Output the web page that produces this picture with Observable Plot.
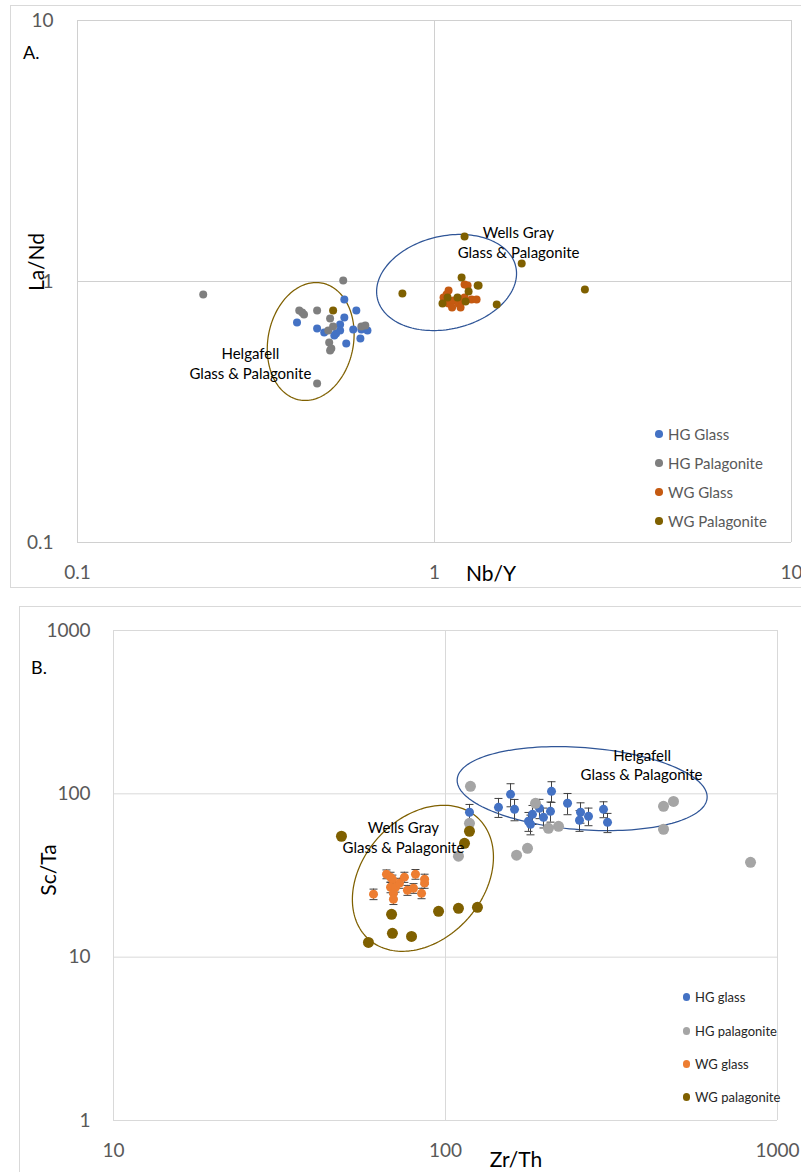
<!DOCTYPE html>
<html>
<head>
<meta charset="utf-8">
<script src="https://cdn.jsdelivr.net/npm/d3@7"></script>
<script src="https://cdn.jsdelivr.net/npm/@observablehq/plot@0.6"></script>
<style>
  body { margin: 0; background: #fff; }
  #wrap { position: relative; width: 801px; height: 1172px; overflow: hidden; background: #fff;
          font-family: Lato, "Open Sans", sans-serif; }
  .abs { position: absolute; white-space: nowrap; line-height: 1; }
  .box { position: absolute; border: 1px solid #d9d9d9; box-sizing: border-box; }
  .svgpos { position: absolute; left: 0; }
  .leg { position: absolute; white-space: nowrap; line-height: 1; transform: translateY(-50%); }
  .legdot { position: absolute; border-radius: 50%; }
</style>
</head>
<body>
<div id="wrap">
  <div class="box" style="left:10px;top:5px;width:820px;height:583px;"></div>
  <div class="box" style="left:19px;top:606px;width:820px;height:600px;"></div>
</div>
<script>
// ---------------- Panel A data: La/Nd vs Nb/Y ----------------
const hgGlassA_NbY  = [0.412,0.469,0.491,0.524,0.530,0.544,0.544,0.559,0.559,0.566,0.592,0.604,0.620,0.624,0.649];
const hgGlassA_LaNd = [0.696,0.661,0.638,0.621,0.632,0.684,0.649,0.728,0.853,0.579,0.655,0.774,0.605,0.655,0.649];

const hgPalA_NbY  = [0.225,0.555,0.418,0.431,0.426,0.469,0.510,0.504,0.520,0.507,0.514,0.510,0.624,0.640,0.469];
const hgPalA_LaNd = [0.892,1.009,0.774,0.747,0.761,0.774,0.721,0.649,0.673,0.584,0.554,0.544,0.673,0.678,0.407];

const wgGlassA_NbY  = [1.214,1.095,1.081,1.060,1.095,1.131,1.168,1.191,1.214,1.270,1.312,1.183,1.238,1.120];
const wgGlassA_LaNd = [0.974,0.924,0.892,0.868,0.823,0.846,0.823,0.846,0.868,0.853,0.853,0.795,0.965,0.795];

const wgPalA_NbY  = [0.520,0.813,1.214,1.755,2.638,1.191,1.321,1.329,1.246,1.088,1.053,1.160,1.222,1.494];
const wgPalA_LaNd = [0.774,0.900,1.487,1.172,0.932,1.036,0.965,0.965,0.916,0.868,0.823,0.868,0.838,0.816];

const xTicksA = [0.1, 1, 10];
const yTicksA = [0.1, 1, 10];
const legendA = ["HG Glass", "HG Palagonite", "WG Glass", "WG Palagonite"];
const colorsA = ["#4472c4", "#7f7f7f", "#c55a11", "#7f6000"];

const annA_text = ["Wells Gray", "Glass & Palagonite", "Helgafell", "Glass & Palagonite"];
const annA_x = [1.717, 1.720, 0.305, 0.305];
const annA_y = [1.531, 1.288, 0.525, 0.440];

// ---------------- Panel B data: Sc/Ta vs Zr/Th ----------------
const hgGlassB_ZrTh = [118.1,144.4,157.0,161.4,177.8,180.3,182.8,191.9,197.3,207.1,208.6,233.1,255.1,253.3,269.6,299.2,307.6];
const hgGlassB_ScTa = [77.1,82.7,99.3,80.4,67.9,65.1,74.9,81.5,71.8,78.1,103.6,87.5,77.1,68.9,72.8,80.4,66.9];
const hgGlassB_err  = [9,11,16,12,9,9,10,11,10,11,15,13,11,10,9,9,9];

const hgPalB_ZrTh = [118.9,118.1,109.4,163.7,176.6,186.7,204.2,219.0,453.6,486.1,453.6,829.4];
const hgPalB_ScTa = [111.1,66.0,41.5,42.1,46.4,87.5,61.5,63.3,83.8,89.9,60.7,38.1];

const wgGlassB_ZrTh = [60.7,66.4,68.3,69.2,68.3,70.7,69.7,69.7,72.7,75.2,76.8,80.1,81.2,84.7,86.5,86.5];
const wgGlassB_ScTa = [24.3,32.2,30.9,30.0,26.8,26.8,24.6,22.6,28.4,30.9,25.7,26.4,32.2,24.6,30.0,28.4];
const wgGlassB_err  = [1.8,2.0,2.2,1.8,2.0,1.8,1.6,1.6,2.0,2.2,1.8,1.8,2.2,1.8,2.2,2.0];

const wgPalB_ZrTh = [48.6,118.1,114.1,68.8,69.2,79.0,58.6,95.3,109.4,124.8];
const wgPalB_ScTa = [55.0,59.0,49.8,18.3,14.0,13.4,12.3,19.1,19.9,20.2];

const xTicksB = [10, 100, 1000];
const yTicksB = [1, 10, 100, 1000];
const legendB = ["HG glass", "HG palagonite", "WG glass", "WG palagonite"];
const colorsB = ["#4472c4", "#a5a5a5", "#ed7d31", "#7f6000"];

const annB_text = ["Wells Gray", "Glass & Palagonite", "Helgafell", "Glass & Palagonite"];
const annB_x = [74.7, 74.7, 391.3, 389.4];
const annB_y = [61.3, 46.2, 169.6, 129.8];

// Ellipse outlines: centre in data units, semi-axes in px, tilt in degrees
const ellipsesA = [
  {cx: 0.450, cy: 0.589, a: 59.5, b: 42.7, angle: 79, color: "#7f6000"},
  {cx: 1.081, cy: 0.991, a: 71,   b: 46.5, angle: 13, color: "#2f5597"}
];
const ellipsesB = [
  {cx: 85.5, cy: 30.4,  a: 81.6,  b: 60.4, angle: 48.4,  color: "#7f6000"},
  {cx: 258,  cy: 107.6, a: 125.3, b: 41.1, angle: -4.26, color: "#2f5597"}
];

// ---------------- helpers ----------------
const FONT = "Lato, 'Open Sans', sans-serif";
const zip = (xs, ys, extra = {}) => xs.map((x, i) => {
  const o = {x, y: ys[i]};
  for (const k in extra) o[k] = extra[k][i];
  return o;
});

function ellipseLine(e, sx, sy) {
  const pts = [];
  const px0 = sx(e.cx), py0 = sy(e.cy), th = e.angle * Math.PI / 180;
  for (let k = 0; k <= 160; k++) {
    const t = 2 * Math.PI * k / 160;
    const dx = e.a * Math.cos(t) * Math.cos(th) - e.b * Math.sin(t) * Math.sin(th);
    const dy = e.a * Math.cos(t) * Math.sin(th) + e.b * Math.sin(t) * Math.cos(th);
    pts.push({x: sx.invert(px0 + dx), y: sy.invert(py0 - dy)});
  }
  return Plot.line(pts, {x: "x", y: "y", stroke: e.color, strokeWidth: 1.25});
}

const capSymbol = {draw(ctx) { ctx.moveTo(-4, 0); ctx.lineTo(4, 0); }};
function errorBars(rows, color) {
  const ext = rows.map(d => ({x: d.x, y1: d.y - d.err, y2: d.y + d.err}));
  return [
    Plot.ruleX(ext, {x: "x", y1: "y1", y2: "y2", stroke: color, strokeWidth: 1}),
    Plot.dot(ext, {x: "x", y: "y1", symbol: capSymbol, stroke: color, fill: "none", strokeWidth: 1}),
    Plot.dot(ext, {x: "x", y: "y2", symbol: capSymbol, stroke: color, fill: "none", strokeWidth: 1})
  ];
}

const wrap = document.getElementById("wrap");
function addHTML(html) { wrap.insertAdjacentHTML("beforeend", html); }

// ---------------- Panel A ----------------
{
  const W = 801, H = 590, mT = 20, mR = 10, mB = 48, mL = 77;
  const sx = d3.scaleLog().domain([0.1, 10]).range([mL, W - mR]);
  const sy = d3.scaleLog().domain([0.1, 10]).range([H - mB, mT]);
  const series = [
    zip(hgGlassA_NbY, hgGlassA_LaNd),
    zip(hgPalA_NbY, hgPalA_LaNd),
    zip(wgGlassA_NbY, wgGlassA_LaNd),
    zip(wgPalA_NbY, wgPalA_LaNd)
  ];
  const ann = annA_text.map((t, i) => ({text: t, x: annA_x[i], y: annA_y[i]}));
  const plot = Plot.plot({
    width: W, height: H, marginTop: mT, marginRight: mR, marginBottom: mB, marginLeft: mL,
    style: {fontFamily: FONT, fontSize: "19px", color: "#595959", background: "transparent", overflow: "visible"},
    x: {type: "log", domain: [0.1, 10], ticks: xTicksA, tickFormat: d => String(d), tickSize: 0, tickPadding: 23, label: null},
    y: {type: "log", domain: [0.1, 10], ticks: yTicksA, tickFormat: d => String(d), tickSize: 0, tickPadding: 24, label: null},
    marks: [
      Plot.ruleX(xTicksA, {stroke: "#d0d0d0"}),
      Plot.ruleY(yTicksA, {stroke: "#d0d0d0"}),
      ...ellipsesA.map(e => ellipseLine(e, sx, sy)),
      ...series.map((s, i) => Plot.dot(s, {x: "x", y: "y", r: 4, fill: colorsA[i], stroke: "none"})),
      Plot.text(ann, {x: "x", y: "y", text: "text", fill: "#000", fontSize: 15, textAnchor: "middle"})
    ]
  });
  plot.classList.add("svgpos");
  plot.style.top = "0px";
  wrap.appendChild(plot);

  addHTML(`<div class="abs" style="left:23px;top:52px;transform:translateY(-50%);font-size:18px;color:#000;">A.</div>`);
  addHTML(`<div class="abs" style="left:491px;top:572px;transform:translate(-50%,-50%);font-size:21px;color:#000;">Nb/Y</div>`);
  addHTML(`<div class="abs" style="left:35px;top:262px;transform:translate(-50%,-50%) rotate(-90deg);font-size:21px;color:#000;">La/Nd</div>`);
  const legY = [434, 463, 492, 521];
  legendA.forEach((lab, i) => {
    addHTML(`<div class="legdot" style="left:${659 - 3.8}px;top:${legY[i] - 3.8}px;width:7.6px;height:7.6px;background:${colorsA[i]};"></div>`);
    addHTML(`<div class="leg" style="left:668px;top:${legY[i]}px;font-size:15px;color:#595959;">${lab}</div>`);
  });
}

// ---------------- Panel B ----------------
{
  const W = 801, H = 582, mT = 40, mR = 24, mB = 52, mL = 113;
  const top = 590;
  const sx = d3.scaleLog().domain([10, 1000]).range([mL, W - mR]);
  const sy = d3.scaleLog().domain([1, 1000]).range([H - mB, mT]);
  const hgGlass = zip(hgGlassB_ZrTh, hgGlassB_ScTa, {err: hgGlassB_err});
  const hgPal = zip(hgPalB_ZrTh, hgPalB_ScTa);
  const wgGlass = zip(wgGlassB_ZrTh, wgGlassB_ScTa, {err: wgGlassB_err});
  const wgPal = zip(wgPalB_ZrTh, wgPalB_ScTa);
  const ann = annB_text.map((t, i) => ({text: t, x: annB_x[i], y: annB_y[i]}));
  const plot = Plot.plot({
    width: W, height: H, marginTop: mT, marginRight: mR, marginBottom: mB, marginLeft: mL,
    style: {fontFamily: FONT, fontSize: "19px", color: "#595959", background: "transparent", overflow: "visible"},
    x: {type: "log", domain: [10, 1000], ticks: xTicksB, tickFormat: d => String(d), tickSize: 0, tickPadding: 23, label: null},
    y: {type: "log", domain: [1, 1000], ticks: yTicksB, tickFormat: d => String(d), tickSize: 0, tickPadding: 23, label: null},
    marks: [
      Plot.ruleX(xTicksB, {stroke: "#d9d9d9"}),
      Plot.ruleY(yTicksB, {stroke: "#d9d9d9"}),
      ...ellipsesB.map(e => ellipseLine(e, sx, sy)),
      ...errorBars(hgGlass, "#404040"),
      Plot.dot(hgGlass, {x: "x", y: "y", r: 4.5, fill: colorsB[0], stroke: "none"}),
      Plot.dot(hgPal, {x: "x", y: "y", r: 5.5, fill: colorsB[1], stroke: "none"}),
      ...errorBars(wgGlass, "#404040"),
      Plot.dot(wgGlass, {x: "x", y: "y", r: 4.5, fill: colorsB[2], stroke: "none"}),
      Plot.dot(wgPal, {x: "x", y: "y", r: 5.5, fill: colorsB[3], stroke: "none"}),
      Plot.text(ann, {x: "x", y: "y", text: "text", fill: "#000", fontSize: 15, textAnchor: "middle"})
    ]
  });
  plot.classList.add("svgpos");
  plot.style.top = top + "px";
  wrap.appendChild(plot);

  addHTML(`<div class="abs" style="left:31px;top:667px;transform:translateY(-50%);font-size:18px;color:#000;">B.</div>`);
  addHTML(`<div class="abs" style="left:516px;top:1158px;transform:translate(-50%,-50%);font-size:21px;color:#000;">Zr/Th</div>`);
  addHTML(`<div class="abs" style="left:47px;top:870px;transform:translate(-50%,-50%) rotate(-90deg);font-size:21px;color:#000;">Sc/Ta</div>`);
  const legY = [997, 1031, 1064, 1097];
  legendB.forEach((lab, i) => {
    addHTML(`<div class="legdot" style="left:${686.5 - 3.6}px;top:${legY[i] - 3.6}px;width:7.2px;height:7.2px;background:${colorsB[i]};"></div>`);
    addHTML(`<div class="leg" style="left:695px;top:${legY[i]}px;font-size:13px;color:#262626;">${lab}</div>`);
  });
}
</script>
</body>
</html>
